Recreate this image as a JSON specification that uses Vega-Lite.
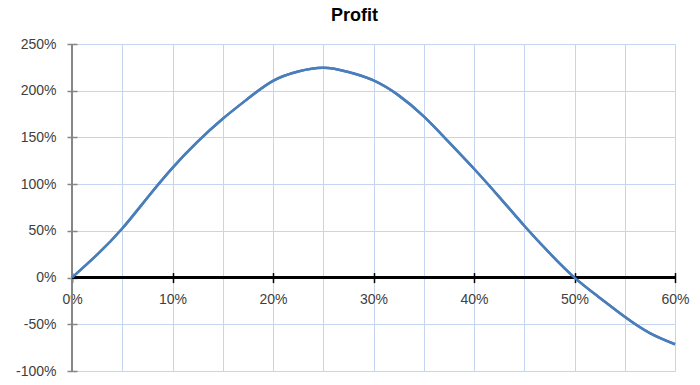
{
  "$schema": "https://vega.github.io/schema/vega-lite/v6.json",
  "autosize": {"type": "none"},
  "padding": {"left": 72, "top": 44, "right": 25, "bottom": 14},
  "width": 603,
  "height": 327,
  "background": "white",
  "title": {"text": "Profit", "font": "Liberation Sans", "fontSize": 18, "fontWeight": "bold", "color": "#000000", "anchor": "middle", "dx": -19, "baseline": "alphabetic", "offset": -2},
  "config": {
    "view": {"stroke": null},
    "axis": {"labelFont": "Liberation Sans", "labelFontSize": 14, "labelColor": "#404040", "gridColor": "#c6d5ef", "gridWidth": 1, "gridOpacity": 1}
  },
  "data": {"values": [
    {"rate": 0, "profit": 0},
    {"rate": 0.025, "profit": 0.245},
    {"rate": 0.05, "profit": 0.525},
    {"rate": 0.075, "profit": 0.855},
    {"rate": 0.1, "profit": 1.175},
    {"rate": 0.125, "profit": 1.455},
    {"rate": 0.15, "profit": 1.7},
    {"rate": 0.175, "profit": 1.915},
    {"rate": 0.2, "profit": 2.105},
    {"rate": 0.225, "profit": 2.205},
    {"rate": 0.25, "profit": 2.245},
    {"rate": 0.275, "profit": 2.2},
    {"rate": 0.3, "profit": 2.11},
    {"rate": 0.325, "profit": 1.95},
    {"rate": 0.35, "profit": 1.725},
    {"rate": 0.375, "profit": 1.45},
    {"rate": 0.4, "profit": 1.165},
    {"rate": 0.425, "profit": 0.864},
    {"rate": 0.45, "profit": 0.555},
    {"rate": 0.475, "profit": 0.264},
    {"rate": 0.5, "profit": 0},
    {"rate": 0.525, "profit": -0.215},
    {"rate": 0.55, "profit": -0.42},
    {"rate": 0.575, "profit": -0.595},
    {"rate": 0.6, "profit": -0.714}
  ]},
  "layer": [
    {
      "mark": {"type": "line", "color": "#4a7ebb", "strokeWidth": 2.5, "interpolate": "natural"},
      "encoding": {
        "x": {"field": "rate", "type": "quantitative",
          "scale": {"domain": [0, 0.6], "nice": false, "zero": false},
          "axis": {"values": [0, 0.05, 0.1, 0.15, 0.2, 0.25, 0.3, 0.35, 0.4, 0.45, 0.5, 0.55, 0.6],
            "format": ".0%", "offset": -98.43, "domain": false, "tickSize": 10, "tickWidth": 1.5,
            "tickColor": {"condition": {"test": "round(datum.value*100) % 10 != 0", "value": "transparent"}, "value": "#000000"},
            "labelExpr": "round(datum.value*100) % 10 == 0 ? datum.label : ''",
            "labelPadding": 10, "labelFlush": false, "labelOverlap": false, "grid": true, "title": null}},
        "y": {"field": "profit", "type": "quantitative",
          "scale": {"domain": [-1, 2.5], "nice": false},
          "axis": {"values": [-1, -0.5, 0, 0.5, 1, 1.5, 2, 2.5], "format": ".0%", "offset": -5, "domain": false,
            "tickSize": 10, "tickWidth": 1.5, "tickColor": "#868686", "labelPadding": 11,
            "labelExpr": "replace(datum.label, '\u2212', '-')", "grid": true, "title": null}}
      }
    },
    {
      "mark": {"type": "rule", "color": "#868686", "strokeWidth": 1.5},
      "encoding": {"x": {"datum": 0, "type": "quantitative"}}
    },
    {
      "mark": {"type": "rule", "color": "#000000", "strokeWidth": 2},
      "encoding": {"y": {"datum": 0, "type": "quantitative"}}
    },
    {
      "mark": {"type": "line", "color": "#4a7ebb", "strokeWidth": 2.5, "interpolate": "natural"},
      "encoding": {
        "x": {"field": "rate", "type": "quantitative"},
        "y": {"field": "profit", "type": "quantitative"}
      }
    }
  ]
}
